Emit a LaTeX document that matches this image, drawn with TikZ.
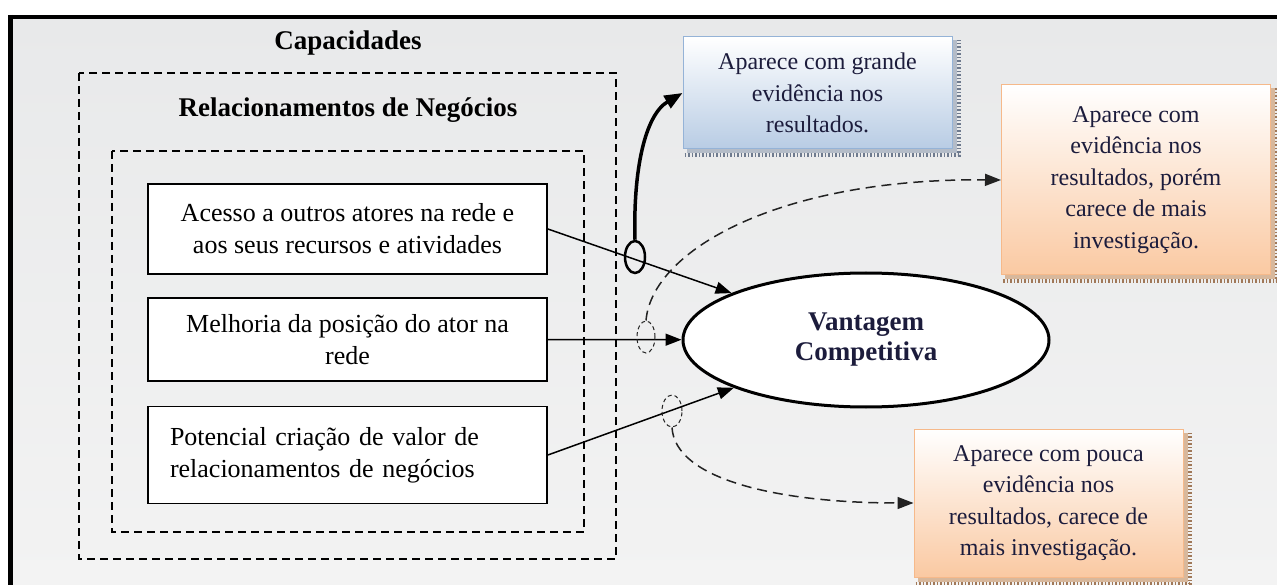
\documentclass[tikz,border=0pt]{standalone}
\usepackage{fontspec}
\setmainfont{Liberation Serif}
\usetikzlibrary{arrows.meta,shapes.geometric,backgrounds}
\definecolor{bgT}{HTML}{E8E9EA}
\definecolor{bgB}{HTML}{F3F3F3}
\definecolor{blueB}{HTML}{B8CCE4}
\definecolor{blueE}{HTML}{95B3D7}
\definecolor{orB}{HTML}{FAC9A2}
\definecolor{orE}{HTML}{F6B98A}
\definecolor{txt}{HTML}{1C1C3C}
\definecolor{shBl}{HTML}{6E7A8E}
\definecolor{shBlL}{HTML}{B4BCC8}
\definecolor{shOr}{HTML}{A07858}
\definecolor{shOrL}{HTML}{D8B89C}
\definecolor{dsh}{HTML}{222222}
\begin{document}
\begin{tikzpicture}[x=1pt,y=-1pt,
  capbox/.style={draw=black, line width=1.8pt, fill=white, minimum width=399pt,
    inner sep=0pt, font=\fontsize{26}{32}\selectfont, align=center},
  grp/.style={draw=black, line width=1.5pt, dash pattern=on 8pt off 5pt},
  titletext/.style={font=\fontsize{27}{30}\selectfont\bfseries},
  callB/.style={draw=blueE, line width=1pt, top color=white, bottom color=blueB,
    minimum width=269pt, inner sep=0pt, align=center, text=txt,
    font=\fontsize{24}{31.5}\selectfont},
  callO/.style={callB, draw=orE, bottom color=orB},
  link/.style={line width=1.5pt, -{Triangle[length=16pt,width=12pt]}},
  dlink/.style={draw=dsh, line width=1.5pt, dash pattern=on 10pt off 6pt,
    -{Triangle[length=16pt,width=12pt]}},
  ring/.style={ellipse, inner sep=0pt, minimum width=20pt, minimum height=32pt},
]
\useasboundingbox (0,0) rectangle (1277,585);

% groups
\draw[grp] (79,73) rectangle (616,559);
\draw[grp] (112,151) rectangle (584,532);
\node[titletext] (cap) at (348,43) {Capacidades};
\node[titletext] (rel) at (348,110) {Relacionamentos de Negócios};

% capability boxes
\node[capbox, minimum height=90pt] (b1) at (347.5,229) {Acesso a outros atores na rede e\\aos seus recursos e atividades};
\node[capbox, minimum height=83pt] (b2) at (347.5,339.5) {Melhoria da posição do ator na\\rede};
\node[capbox, minimum height=97pt, text width=355pt, inner xsep=22pt, align=left] (b3) at (347.5,455) {Potencial criação de valor de\\relacionamentos de negócios\\[6pt]};

% central ellipse
\node[ellipse, draw=black, line width=3pt, fill=white, minimum width=366pt,
  minimum height=134pt, inner sep=0pt, align=center, text=txt,
  font=\fontsize{27}{30}\selectfont\bfseries] (vc) at (866,340) {Vantagem\\Competitiva};

% callouts
\node[callB, minimum height=112pt] (blue) at (817.5,93) {Aparece com grande\\evidência nos\\resultados.};
\node[callO, minimum height=190pt] (or1) at (1136,180) {Aparece com\\evidência nos\\resultados, porém\\carece de mais\\investigação.};
\node[callO, minimum height=148pt] (or2) at (1048.5,503) {Aparece com pouca\\evidência nos\\resultados, carece de\\mais investigação.};

% arrows to the ellipse
\draw[link] (b1.east) -- (vc);
\draw[link] (b2.east) -- (vc);
\draw[link] (b3.east) -- (vc);

% moderator rings
\node[ring, draw=black, line width=2.5pt] (so1) at (635,257) {};
\node[ring, draw=dsh, line width=1pt, dash pattern=on 4pt off 3pt, minimum width=18pt] (sd1) at (646,337) {};
\node[ring, draw=dsh, line width=1pt, dash pattern=on 4pt off 3pt] (sd2) at (672,411) {};

% curved links to callouts
\draw[line width=3.5pt, -{Triangle[length=18pt,width=14pt]}] (so1.north) .. controls (633,170) and (645,115) .. (blue.west);
\draw[dlink] (sd1.north) .. controls (652,250) and (780,178) .. (or1.west);
\draw[dlink] (sd2.south) .. controls (675,480) and (780,503) .. (or2.west);

\begin{scope}[on background layer]
  \fill[white] (0,0) rectangle (1277,585);
  \shade[top color=bgT, bottom color=bgB] (10,17) rectangle (1277,585);
  \draw[line width=4pt] (8,17) -- (1277,17);
  \draw[line width=5pt] (10,15) -- (10,585);
  \foreach \n/\cl/\cd in {blue/shBlL/shBl, or1/shOrL/shOr, or2/shOrL/shOr}{
    \fill[\cl] ([shift={(4,4)}]\n.south west) rectangle ([shift={(4,4)}]\n.north east);
    \draw[\cd, line width=4pt, dash pattern=on 1.5pt off 2pt]
      ([shift={(2,6)}]\n.south west) -- ([shift={(6,6)}]\n.south east) -- ([shift={(6,4)}]\n.north east);
  }
\end{scope}
\end{tikzpicture}
\end{document}
